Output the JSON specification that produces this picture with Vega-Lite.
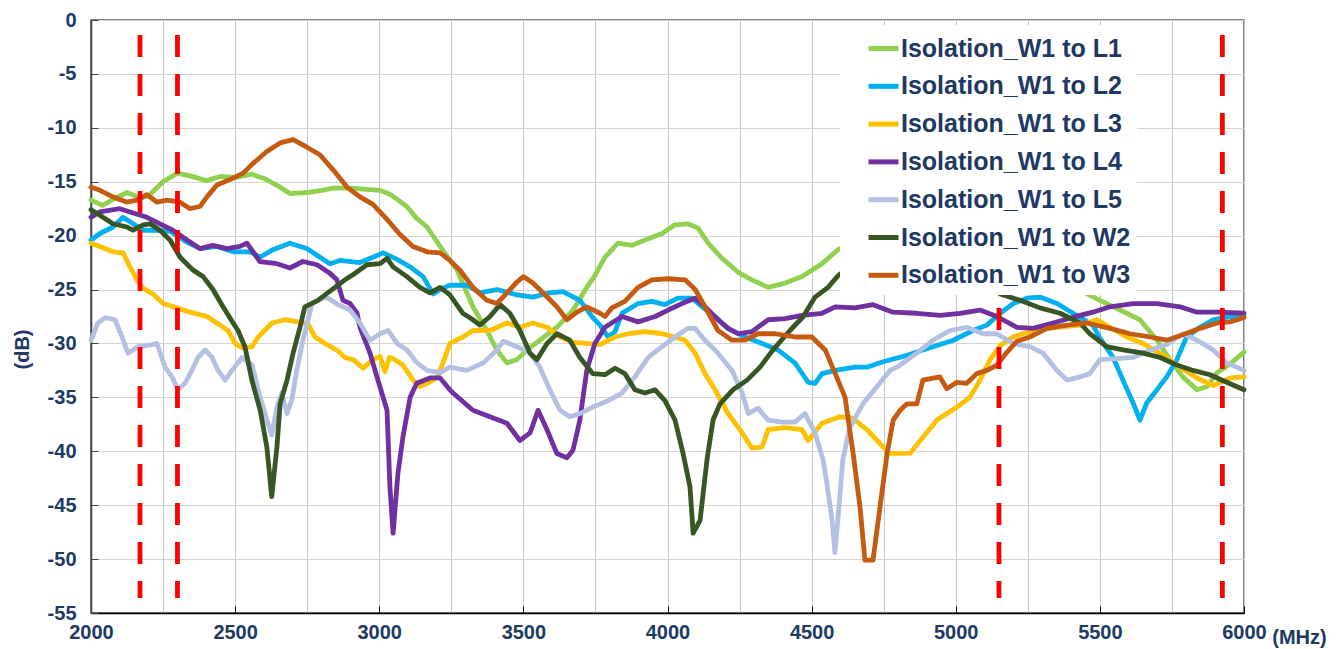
{
"$schema": "https://vega.github.io/schema/vega-lite/v6.json",
"width": 1153, "height": 593, "autosize": "none",
"padding": {"left": 91, "top": 20, "right": 98, "bottom": 36},
"background": "white",
"config": {"view": {"stroke": "#595959", "strokeWidth": 1.5}, "font": "Liberation Sans"},
"datasets": {
"bands": [{"freq": 2170}, {"freq": 2300}, {"freq": 5150}, {"freq": 5925}],
"curves": [
{"series":"Isolation_W1 to L1","freq":2000,"db":-16.7},{"series":"Isolation_W1 to L1","freq":2040,"db":-17.2},{"series":"Isolation_W1 to L1","freq":2080,"db":-16.6},{"series":"Isolation_W1 to L1","freq":2125,"db":-16.0},{"series":"Isolation_W1 to L1","freq":2170,"db":-16.5},{"series":"Isolation_W1 to L1","freq":2200,"db":-16.3},{"series":"Isolation_W1 to L1","freq":2250,"db":-15.0},{"series":"Isolation_W1 to L1","freq":2300,"db":-14.2},{"series":"Isolation_W1 to L1","freq":2350,"db":-14.5},{"series":"Isolation_W1 to L1","freq":2400,"db":-14.9},{"series":"Isolation_W1 to L1","freq":2450,"db":-14.5},{"series":"Isolation_W1 to L1","freq":2500,"db":-14.6},{"series":"Isolation_W1 to L1","freq":2558,"db":-14.3},{"series":"Isolation_W1 to L1","freq":2600,"db":-14.7},{"series":"Isolation_W1 to L1","freq":2650,"db":-15.4},{"series":"Isolation_W1 to L1","freq":2690,"db":-16.1},{"series":"Isolation_W1 to L1","freq":2750,"db":-16.0},{"series":"Isolation_W1 to L1","freq":2800,"db":-15.8},{"series":"Isolation_W1 to L1","freq":2840,"db":-15.6},{"series":"Isolation_W1 to L1","freq":2900,"db":-15.6},{"series":"Isolation_W1 to L1","freq":2957,"db":-15.7},{"series":"Isolation_W1 to L1","freq":3003,"db":-15.8},{"series":"Isolation_W1 to L1","freq":3040,"db":-16.2},{"series":"Isolation_W1 to L1","freq":3096,"db":-17.3},{"series":"Isolation_W1 to L1","freq":3130,"db":-18.4},{"series":"Isolation_W1 to L1","freq":3166,"db":-19.2},{"series":"Isolation_W1 to L1","freq":3211,"db":-21.0},{"series":"Isolation_W1 to L1","freq":3270,"db":-23.2},{"series":"Isolation_W1 to L1","freq":3325,"db":-26.6},{"series":"Isolation_W1 to L1","freq":3373,"db":-28.8},{"series":"Isolation_W1 to L1","freq":3408,"db":-30.6},{"series":"Isolation_W1 to L1","freq":3443,"db":-31.8},{"series":"Isolation_W1 to L1","freq":3478,"db":-31.5},{"series":"Isolation_W1 to L1","freq":3512,"db":-30.6},{"series":"Isolation_W1 to L1","freq":3557,"db":-29.7},{"series":"Isolation_W1 to L1","freq":3616,"db":-28.5},{"series":"Isolation_W1 to L1","freq":3672,"db":-26.9},{"series":"Isolation_W1 to L1","freq":3720,"db":-24.8},{"series":"Isolation_W1 to L1","freq":3748,"db":-23.7},{"series":"Isolation_W1 to L1","freq":3783,"db":-22.0},{"series":"Isolation_W1 to L1","freq":3828,"db":-20.7},{"series":"Isolation_W1 to L1","freq":3877,"db":-20.9},{"series":"Isolation_W1 to L1","freq":3922,"db":-20.4},{"series":"Isolation_W1 to L1","freq":3981,"db":-19.8},{"series":"Isolation_W1 to L1","freq":4026,"db":-19.0},{"series":"Isolation_W1 to L1","freq":4071,"db":-18.9},{"series":"Isolation_W1 to L1","freq":4106,"db":-19.3},{"series":"Isolation_W1 to L1","freq":4141,"db":-20.7},{"series":"Isolation_W1 to L1","freq":4189,"db":-22.1},{"series":"Isolation_W1 to L1","freq":4245,"db":-23.4},{"series":"Isolation_W1 to L1","freq":4293,"db":-24.1},{"series":"Isolation_W1 to L1","freq":4349,"db":-24.8},{"series":"Isolation_W1 to L1","freq":4408,"db":-24.4},{"series":"Isolation_W1 to L1","freq":4467,"db":-23.8},{"series":"Isolation_W1 to L1","freq":4536,"db":-22.6},{"series":"Isolation_W1 to L1","freq":4592,"db":-21.3},{"series":"Isolation_W1 to L1","freq":4650,"db":-20.5},{"series":"Isolation_W1 to L1","freq":4750,"db":-19.8},{"series":"Isolation_W1 to L1","freq":4900,"db":-19.5},{"series":"Isolation_W1 to L1","freq":5050,"db":-20.5},{"series":"Isolation_W1 to L1","freq":5200,"db":-22.0},{"series":"Isolation_W1 to L1","freq":5350,"db":-24.0},{"series":"Isolation_W1 to L1","freq":5456,"db":-25.4},{"series":"Isolation_W1 to L1","freq":5500,"db":-26.0},{"series":"Isolation_W1 to L1","freq":5570,"db":-26.9},{"series":"Isolation_W1 to L1","freq":5639,"db":-27.8},{"series":"Isolation_W1 to L1","freq":5698,"db":-29.7},{"series":"Isolation_W1 to L1","freq":5743,"db":-31.5},{"series":"Isolation_W1 to L1","freq":5788,"db":-33.1},{"series":"Isolation_W1 to L1","freq":5837,"db":-34.3},{"series":"Isolation_W1 to L1","freq":5872,"db":-34.0},{"series":"Isolation_W1 to L1","freq":5907,"db":-32.7},{"series":"Isolation_W1 to L1","freq":5952,"db":-31.9},{"series":"Isolation_W1 to L1","freq":6000,"db":-30.8},
{"series":"Isolation_W1 to L2","freq":2000,"db":-20.4},{"series":"Isolation_W1 to L2","freq":2031,"db":-19.8},{"series":"Isolation_W1 to L2","freq":2076,"db":-19.2},{"series":"Isolation_W1 to L2","freq":2111,"db":-18.3},{"series":"Isolation_W1 to L2","freq":2146,"db":-18.9},{"series":"Isolation_W1 to L2","freq":2181,"db":-19.5},{"series":"Isolation_W1 to L2","freq":2229,"db":-19.5},{"series":"Isolation_W1 to L2","freq":2274,"db":-19.6},{"series":"Isolation_W1 to L2","freq":2333,"db":-20.6},{"series":"Isolation_W1 to L2","freq":2378,"db":-21.2},{"series":"Isolation_W1 to L2","freq":2437,"db":-21.0},{"series":"Isolation_W1 to L2","freq":2493,"db":-21.5},{"series":"Isolation_W1 to L2","freq":2552,"db":-21.5},{"series":"Isolation_W1 to L2","freq":2586,"db":-22.0},{"series":"Isolation_W1 to L2","freq":2631,"db":-21.3},{"series":"Isolation_W1 to L2","freq":2690,"db":-20.7},{"series":"Isolation_W1 to L2","freq":2749,"db":-21.2},{"series":"Isolation_W1 to L2","freq":2794,"db":-22.0},{"series":"Isolation_W1 to L2","freq":2829,"db":-22.6},{"series":"Isolation_W1 to L2","freq":2864,"db":-22.3},{"series":"Isolation_W1 to L2","freq":2933,"db":-22.5},{"series":"Isolation_W1 to L2","freq":2978,"db":-22.0},{"series":"Isolation_W1 to L2","freq":3013,"db":-21.6},{"series":"Isolation_W1 to L2","freq":3062,"db":-22.2},{"series":"Isolation_W1 to L2","freq":3107,"db":-22.9},{"series":"Isolation_W1 to L2","freq":3152,"db":-23.8},{"series":"Isolation_W1 to L2","freq":3187,"db":-25.4},{"series":"Isolation_W1 to L2","freq":3211,"db":-25.0},{"series":"Isolation_W1 to L2","freq":3245,"db":-24.6},{"series":"Isolation_W1 to L2","freq":3304,"db":-24.6},{"series":"Isolation_W1 to L2","freq":3349,"db":-25.3},{"series":"Isolation_W1 to L2","freq":3408,"db":-25.0},{"series":"Isolation_W1 to L2","freq":3478,"db":-25.5},{"series":"Isolation_W1 to L2","freq":3533,"db":-25.7},{"series":"Isolation_W1 to L2","freq":3592,"db":-25.3},{"series":"Isolation_W1 to L2","freq":3637,"db":-25.2},{"series":"Isolation_W1 to L2","freq":3696,"db":-26.0},{"series":"Isolation_W1 to L2","freq":3741,"db":-27.6},{"series":"Isolation_W1 to L2","freq":3766,"db":-28.3},{"series":"Isolation_W1 to L2","freq":3794,"db":-29.4},{"series":"Isolation_W1 to L2","freq":3818,"db":-28.9},{"series":"Isolation_W1 to L2","freq":3842,"db":-27.2},{"series":"Isolation_W1 to L2","freq":3898,"db":-26.3},{"series":"Isolation_W1 to L2","freq":3946,"db":-26.1},{"series":"Isolation_W1 to L2","freq":3991,"db":-26.4},{"series":"Isolation_W1 to L2","freq":4036,"db":-25.8},{"series":"Isolation_W1 to L2","freq":4085,"db":-25.8},{"series":"Isolation_W1 to L2","freq":4120,"db":-26.6},{"series":"Isolation_W1 to L2","freq":4165,"db":-27.5},{"series":"Isolation_W1 to L2","freq":4210,"db":-28.6},{"series":"Isolation_W1 to L2","freq":4269,"db":-29.4},{"series":"Isolation_W1 to L2","freq":4328,"db":-30.0},{"series":"Isolation_W1 to L2","freq":4383,"db":-30.6},{"series":"Isolation_W1 to L2","freq":4442,"db":-31.8},{"series":"Isolation_W1 to L2","freq":4488,"db":-33.6},{"series":"Isolation_W1 to L2","freq":4512,"db":-33.7},{"series":"Isolation_W1 to L2","freq":4536,"db":-32.8},{"series":"Isolation_W1 to L2","freq":4582,"db":-32.5},{"series":"Isolation_W1 to L2","freq":4650,"db":-32.2},{"series":"Isolation_W1 to L2","freq":4692,"db":-32.2},{"series":"Isolation_W1 to L2","freq":4748,"db":-31.7},{"series":"Isolation_W1 to L2","freq":4831,"db":-31.1},{"series":"Isolation_W1 to L2","freq":4921,"db":-30.3},{"series":"Isolation_W1 to L2","freq":4991,"db":-29.7},{"series":"Isolation_W1 to L2","freq":5060,"db":-28.8},{"series":"Isolation_W1 to L2","freq":5108,"db":-28.3},{"series":"Isolation_W1 to L2","freq":5154,"db":-27.2},{"series":"Isolation_W1 to L2","freq":5199,"db":-26.3},{"series":"Isolation_W1 to L2","freq":5247,"db":-25.8},{"series":"Isolation_W1 to L2","freq":5292,"db":-25.7},{"series":"Isolation_W1 to L2","freq":5351,"db":-26.3},{"series":"Isolation_W1 to L2","freq":5407,"db":-27.2},{"series":"Isolation_W1 to L2","freq":5476,"db":-28.3},{"series":"Isolation_W1 to L2","freq":5500,"db":-29.5},{"series":"Isolation_W1 to L2","freq":5546,"db":-31.3},{"series":"Isolation_W1 to L2","freq":5580,"db":-33.4},{"series":"Isolation_W1 to L2","freq":5615,"db":-35.5},{"series":"Isolation_W1 to L2","freq":5639,"db":-37.1},{"series":"Isolation_W1 to L2","freq":5663,"db":-35.5},{"series":"Isolation_W1 to L2","freq":5698,"db":-34.3},{"series":"Isolation_W1 to L2","freq":5732,"db":-33.1},{"series":"Isolation_W1 to L2","freq":5767,"db":-31.5},{"series":"Isolation_W1 to L2","freq":5801,"db":-29.4},{"series":"Isolation_W1 to L2","freq":5847,"db":-28.5},{"series":"Isolation_W1 to L2","freq":5893,"db":-27.8},{"series":"Isolation_W1 to L2","freq":5928,"db":-27.6},{"series":"Isolation_W1 to L2","freq":6000,"db":-27.4},
{"series":"Isolation_W1 to L3","freq":2000,"db":-20.7},{"series":"Isolation_W1 to L3","freq":2031,"db":-21.0},{"series":"Isolation_W1 to L3","freq":2076,"db":-21.5},{"series":"Isolation_W1 to L3","freq":2111,"db":-21.6},{"series":"Isolation_W1 to L3","freq":2135,"db":-22.9},{"series":"Isolation_W1 to L3","freq":2160,"db":-24.1},{"series":"Isolation_W1 to L3","freq":2181,"db":-24.9},{"series":"Isolation_W1 to L3","freq":2215,"db":-25.4},{"series":"Isolation_W1 to L3","freq":2250,"db":-26.3},{"series":"Isolation_W1 to L3","freq":2298,"db":-26.7},{"series":"Isolation_W1 to L3","freq":2343,"db":-27.1},{"series":"Isolation_W1 to L3","freq":2402,"db":-27.5},{"series":"Isolation_W1 to L3","freq":2448,"db":-28.3},{"series":"Isolation_W1 to L3","freq":2475,"db":-28.8},{"series":"Isolation_W1 to L3","freq":2500,"db":-30.0},{"series":"Isolation_W1 to L3","freq":2524,"db":-30.4},{"series":"Isolation_W1 to L3","freq":2559,"db":-30.3},{"series":"Isolation_W1 to L3","freq":2580,"db":-29.4},{"series":"Isolation_W1 to L3","freq":2628,"db":-28.1},{"series":"Isolation_W1 to L3","freq":2673,"db":-27.8},{"series":"Isolation_W1 to L3","freq":2718,"db":-28.0},{"series":"Isolation_W1 to L3","freq":2753,"db":-28.2},{"series":"Isolation_W1 to L3","freq":2777,"db":-29.4},{"series":"Isolation_W1 to L3","freq":2812,"db":-30.0},{"series":"Isolation_W1 to L3","freq":2857,"db":-30.7},{"series":"Isolation_W1 to L3","freq":2881,"db":-31.3},{"series":"Isolation_W1 to L3","freq":2910,"db":-31.5},{"series":"Isolation_W1 to L3","freq":2944,"db":-32.3},{"series":"Isolation_W1 to L3","freq":2978,"db":-31.5},{"series":"Isolation_W1 to L3","freq":3003,"db":-31.2},{"series":"Isolation_W1 to L3","freq":3020,"db":-32.6},{"series":"Isolation_W1 to L3","freq":3035,"db":-31.3},{"series":"Isolation_W1 to L3","freq":3048,"db":-31.4},{"series":"Isolation_W1 to L3","freq":3082,"db":-32.0},{"series":"Isolation_W1 to L3","freq":3117,"db":-33.4},{"series":"Isolation_W1 to L3","freq":3141,"db":-34.0},{"series":"Isolation_W1 to L3","freq":3166,"db":-33.7},{"series":"Isolation_W1 to L3","freq":3200,"db":-33.2},{"series":"Isolation_W1 to L3","freq":3221,"db":-31.8},{"series":"Isolation_W1 to L3","freq":3245,"db":-30.0},{"series":"Isolation_W1 to L3","freq":3290,"db":-29.4},{"series":"Isolation_W1 to L3","freq":3325,"db":-28.8},{"series":"Isolation_W1 to L3","freq":3384,"db":-28.8},{"series":"Isolation_W1 to L3","freq":3443,"db":-28.1},{"series":"Isolation_W1 to L3","freq":3488,"db":-28.5},{"series":"Isolation_W1 to L3","freq":3533,"db":-28.1},{"series":"Isolation_W1 to L3","freq":3582,"db":-28.5},{"series":"Isolation_W1 to L3","freq":3627,"db":-29.4},{"series":"Isolation_W1 to L3","freq":3672,"db":-29.9},{"series":"Isolation_W1 to L3","freq":3720,"db":-30.0},{"series":"Isolation_W1 to L3","freq":3766,"db":-30.1},{"series":"Isolation_W1 to L3","freq":3818,"db":-29.4},{"series":"Isolation_W1 to L3","freq":3863,"db":-29.1},{"series":"Isolation_W1 to L3","freq":3922,"db":-28.9},{"series":"Isolation_W1 to L3","freq":3981,"db":-29.1},{"series":"Isolation_W1 to L3","freq":4026,"db":-29.4},{"series":"Isolation_W1 to L3","freq":4061,"db":-29.7},{"series":"Isolation_W1 to L3","freq":4096,"db":-30.9},{"series":"Isolation_W1 to L3","freq":4130,"db":-32.8},{"series":"Isolation_W1 to L3","freq":4165,"db":-34.3},{"series":"Isolation_W1 to L3","freq":4210,"db":-36.5},{"series":"Isolation_W1 to L3","freq":4259,"db":-38.3},{"series":"Isolation_W1 to L3","freq":4293,"db":-39.7},{"series":"Isolation_W1 to L3","freq":4328,"db":-39.6},{"series":"Isolation_W1 to L3","freq":4349,"db":-38.0},{"series":"Isolation_W1 to L3","freq":4408,"db":-37.8},{"series":"Isolation_W1 to L3","freq":4467,"db":-38.0},{"series":"Isolation_W1 to L3","freq":4488,"db":-39.0},{"series":"Isolation_W1 to L3","freq":4536,"db":-37.4},{"series":"Isolation_W1 to L3","freq":4598,"db":-36.8},{"series":"Isolation_W1 to L3","freq":4640,"db":-36.9},{"series":"Isolation_W1 to L3","freq":4692,"db":-38.0},{"series":"Isolation_W1 to L3","freq":4748,"db":-39.6},{"series":"Isolation_W1 to L3","freq":4772,"db":-40.2},{"series":"Isolation_W1 to L3","freq":4841,"db":-40.2},{"series":"Isolation_W1 to L3","freq":4886,"db":-38.7},{"series":"Isolation_W1 to L3","freq":4935,"db":-37.1},{"series":"Isolation_W1 to L3","freq":5004,"db":-35.9},{"series":"Isolation_W1 to L3","freq":5049,"db":-35.0},{"series":"Isolation_W1 to L3","freq":5084,"db":-33.4},{"series":"Isolation_W1 to L3","freq":5119,"db":-31.5},{"series":"Isolation_W1 to L3","freq":5154,"db":-30.2},{"series":"Isolation_W1 to L3","freq":5199,"db":-29.4},{"series":"Isolation_W1 to L3","freq":5268,"db":-28.8},{"series":"Isolation_W1 to L3","freq":5351,"db":-28.5},{"series":"Isolation_W1 to L3","freq":5431,"db":-28.3},{"series":"Isolation_W1 to L3","freq":5490,"db":-27.8},{"series":"Isolation_W1 to L3","freq":5535,"db":-28.5},{"series":"Isolation_W1 to L3","freq":5593,"db":-29.4},{"series":"Isolation_W1 to L3","freq":5650,"db":-30.0},{"series":"Isolation_W1 to L3","freq":5719,"db":-31.1},{"series":"Isolation_W1 to L3","freq":5778,"db":-32.2},{"series":"Isolation_W1 to L3","freq":5837,"db":-33.2},{"series":"Isolation_W1 to L3","freq":5893,"db":-33.9},{"series":"Isolation_W1 to L3","freq":5952,"db":-33.2},{"series":"Isolation_W1 to L3","freq":6000,"db":-33.1},
{"series":"Isolation_W1 to L4","freq":2000,"db":-18.3},{"series":"Isolation_W1 to L4","freq":2031,"db":-17.8},{"series":"Isolation_W1 to L4","freq":2100,"db":-17.5},{"series":"Isolation_W1 to L4","freq":2146,"db":-17.9},{"series":"Isolation_W1 to L4","freq":2194,"db":-18.3},{"series":"Isolation_W1 to L4","freq":2239,"db":-18.9},{"series":"Isolation_W1 to L4","freq":2284,"db":-19.5},{"series":"Isolation_W1 to L4","freq":2333,"db":-20.4},{"series":"Isolation_W1 to L4","freq":2378,"db":-21.2},{"series":"Isolation_W1 to L4","freq":2423,"db":-20.9},{"series":"Isolation_W1 to L4","freq":2472,"db":-21.2},{"series":"Isolation_W1 to L4","freq":2517,"db":-21.0},{"series":"Isolation_W1 to L4","freq":2541,"db":-20.7},{"series":"Isolation_W1 to L4","freq":2586,"db":-22.4},{"series":"Isolation_W1 to L4","freq":2645,"db":-22.6},{"series":"Isolation_W1 to L4","freq":2690,"db":-23.0},{"series":"Isolation_W1 to L4","freq":2735,"db":-22.4},{"series":"Isolation_W1 to L4","freq":2784,"db":-22.7},{"series":"Isolation_W1 to L4","freq":2829,"db":-23.5},{"series":"Isolation_W1 to L4","freq":2853,"db":-24.1},{"series":"Isolation_W1 to L4","freq":2874,"db":-26.0},{"series":"Isolation_W1 to L4","freq":2899,"db":-26.3},{"series":"Isolation_W1 to L4","freq":2923,"db":-27.2},{"series":"Isolation_W1 to L4","freq":2933,"db":-28.5},{"series":"Isolation_W1 to L4","freq":2968,"db":-30.9},{"series":"Isolation_W1 to L4","freq":2992,"db":-33.1},{"series":"Isolation_W1 to L4","freq":3027,"db":-36.2},{"series":"Isolation_W1 to L4","freq":3037,"db":-43.3},{"series":"Isolation_W1 to L4","freq":3048,"db":-47.6},{"series":"Isolation_W1 to L4","freq":3065,"db":-42.0},{"series":"Isolation_W1 to L4","freq":3082,"db":-38.7},{"series":"Isolation_W1 to L4","freq":3107,"db":-35.0},{"series":"Isolation_W1 to L4","freq":3130,"db":-33.7},{"series":"Isolation_W1 to L4","freq":3176,"db":-33.2},{"series":"Isolation_W1 to L4","freq":3211,"db":-33.2},{"series":"Isolation_W1 to L4","freq":3245,"db":-34.3},{"series":"Isolation_W1 to L4","freq":3256,"db":-34.6},{"series":"Isolation_W1 to L4","freq":3325,"db":-36.2},{"series":"Isolation_W1 to L4","freq":3384,"db":-36.8},{"series":"Isolation_W1 to L4","freq":3443,"db":-37.4},{"series":"Isolation_W1 to L4","freq":3488,"db":-39.0},{"series":"Isolation_W1 to L4","freq":3523,"db":-38.3},{"series":"Isolation_W1 to L4","freq":3551,"db":-36.2},{"series":"Isolation_W1 to L4","freq":3582,"db":-38.0},{"series":"Isolation_W1 to L4","freq":3616,"db":-40.2},{"series":"Isolation_W1 to L4","freq":3651,"db":-40.6},{"series":"Isolation_W1 to L4","freq":3672,"db":-39.9},{"series":"Isolation_W1 to L4","freq":3696,"db":-37.1},{"series":"Isolation_W1 to L4","freq":3720,"db":-32.5},{"series":"Isolation_W1 to L4","freq":3748,"db":-30.0},{"series":"Isolation_W1 to L4","freq":3783,"db":-28.5},{"series":"Isolation_W1 to L4","freq":3842,"db":-27.5},{"series":"Isolation_W1 to L4","freq":3898,"db":-28.0},{"series":"Isolation_W1 to L4","freq":3957,"db":-27.5},{"series":"Isolation_W1 to L4","freq":4002,"db":-26.9},{"series":"Isolation_W1 to L4","freq":4050,"db":-26.3},{"series":"Isolation_W1 to L4","freq":4096,"db":-25.8},{"series":"Isolation_W1 to L4","freq":4130,"db":-26.6},{"series":"Isolation_W1 to L4","freq":4175,"db":-27.8},{"series":"Isolation_W1 to L4","freq":4210,"db":-28.6},{"series":"Isolation_W1 to L4","freq":4245,"db":-29.1},{"series":"Isolation_W1 to L4","freq":4293,"db":-28.9},{"series":"Isolation_W1 to L4","freq":4349,"db":-27.8},{"series":"Isolation_W1 to L4","freq":4408,"db":-27.7},{"series":"Isolation_W1 to L4","freq":4467,"db":-27.4},{"series":"Isolation_W1 to L4","freq":4536,"db":-27.2},{"series":"Isolation_W1 to L4","freq":4582,"db":-26.6},{"series":"Isolation_W1 to L4","freq":4650,"db":-26.7},{"series":"Isolation_W1 to L4","freq":4713,"db":-26.4},{"series":"Isolation_W1 to L4","freq":4782,"db":-27.1},{"series":"Isolation_W1 to L4","freq":4865,"db":-27.2},{"series":"Isolation_W1 to L4","freq":4946,"db":-27.4},{"series":"Isolation_W1 to L4","freq":5015,"db":-27.2},{"series":"Isolation_W1 to L4","freq":5084,"db":-26.9},{"series":"Isolation_W1 to L4","freq":5143,"db":-27.5},{"series":"Isolation_W1 to L4","freq":5212,"db":-28.5},{"series":"Isolation_W1 to L4","freq":5268,"db":-28.6},{"series":"Isolation_W1 to L4","freq":5337,"db":-28.1},{"series":"Isolation_W1 to L4","freq":5431,"db":-27.4},{"series":"Isolation_W1 to L4","freq":5476,"db":-27.1},{"series":"Isolation_W1 to L4","freq":5535,"db":-26.6},{"series":"Isolation_W1 to L4","freq":5615,"db":-26.3},{"series":"Isolation_W1 to L4","freq":5698,"db":-26.3},{"series":"Isolation_W1 to L4","freq":5778,"db":-26.6},{"series":"Isolation_W1 to L4","freq":5837,"db":-27.1},{"series":"Isolation_W1 to L4","freq":5907,"db":-27.1},{"series":"Isolation_W1 to L4","freq":6000,"db":-27.2},
{"series":"Isolation_W1 to L5","freq":2000,"db":-29.7},{"series":"Isolation_W1 to L5","freq":2024,"db":-28.1},{"series":"Isolation_W1 to L5","freq":2049,"db":-27.6},{"series":"Isolation_W1 to L5","freq":2083,"db":-27.8},{"series":"Isolation_W1 to L5","freq":2108,"db":-29.4},{"series":"Isolation_W1 to L5","freq":2128,"db":-30.9},{"series":"Isolation_W1 to L5","freq":2163,"db":-30.3},{"series":"Isolation_W1 to L5","freq":2212,"db":-30.1},{"series":"Isolation_W1 to L5","freq":2229,"db":-30.0},{"series":"Isolation_W1 to L5","freq":2257,"db":-32.2},{"series":"Isolation_W1 to L5","freq":2281,"db":-33.1},{"series":"Isolation_W1 to L5","freq":2302,"db":-34.3},{"series":"Isolation_W1 to L5","freq":2326,"db":-33.7},{"series":"Isolation_W1 to L5","freq":2350,"db":-32.5},{"series":"Isolation_W1 to L5","freq":2371,"db":-31.3},{"series":"Isolation_W1 to L5","freq":2396,"db":-30.6},{"series":"Isolation_W1 to L5","freq":2420,"db":-31.3},{"series":"Isolation_W1 to L5","freq":2441,"db":-32.5},{"series":"Isolation_W1 to L5","freq":2465,"db":-33.4},{"series":"Isolation_W1 to L5","freq":2489,"db":-32.5},{"series":"Isolation_W1 to L5","freq":2524,"db":-31.3},{"series":"Isolation_W1 to L5","freq":2559,"db":-32.0},{"series":"Isolation_W1 to L5","freq":2580,"db":-34.3},{"series":"Isolation_W1 to L5","freq":2610,"db":-37.1},{"series":"Isolation_W1 to L5","freq":2627,"db":-38.5},{"series":"Isolation_W1 to L5","freq":2645,"db":-35.9},{"series":"Isolation_W1 to L5","freq":2662,"db":-34.6},{"series":"Isolation_W1 to L5","freq":2680,"db":-36.5},{"series":"Isolation_W1 to L5","freq":2697,"db":-35.2},{"series":"Isolation_W1 to L5","freq":2714,"db":-32.5},{"series":"Isolation_W1 to L5","freq":2735,"db":-29.7},{"series":"Isolation_W1 to L5","freq":2767,"db":-26.3},{"series":"Isolation_W1 to L5","freq":2812,"db":-25.7},{"series":"Isolation_W1 to L5","freq":2829,"db":-25.9},{"series":"Isolation_W1 to L5","freq":2857,"db":-26.4},{"series":"Isolation_W1 to L5","freq":2899,"db":-26.9},{"series":"Isolation_W1 to L5","freq":2933,"db":-28.1},{"series":"Isolation_W1 to L5","freq":2968,"db":-29.7},{"series":"Isolation_W1 to L5","freq":3003,"db":-29.1},{"series":"Isolation_W1 to L5","freq":3031,"db":-28.8},{"series":"Isolation_W1 to L5","freq":3062,"db":-30.0},{"series":"Isolation_W1 to L5","freq":3096,"db":-30.6},{"series":"Isolation_W1 to L5","freq":3131,"db":-31.8},{"series":"Isolation_W1 to L5","freq":3166,"db":-32.5},{"series":"Isolation_W1 to L5","freq":3211,"db":-32.7},{"series":"Isolation_W1 to L5","freq":3245,"db":-32.2},{"series":"Isolation_W1 to L5","freq":3304,"db":-32.5},{"series":"Isolation_W1 to L5","freq":3361,"db":-31.8},{"series":"Isolation_W1 to L5","freq":3408,"db":-30.6},{"series":"Isolation_W1 to L5","freq":3430,"db":-29.8},{"series":"Isolation_W1 to L5","freq":3478,"db":-30.3},{"series":"Isolation_W1 to L5","freq":3523,"db":-30.9},{"series":"Isolation_W1 to L5","freq":3557,"db":-32.2},{"series":"Isolation_W1 to L5","freq":3592,"db":-34.3},{"series":"Isolation_W1 to L5","freq":3627,"db":-36.2},{"series":"Isolation_W1 to L5","freq":3661,"db":-36.8},{"series":"Isolation_W1 to L5","freq":3696,"db":-36.5},{"series":"Isolation_W1 to L5","freq":3741,"db":-35.9},{"series":"Isolation_W1 to L5","freq":3794,"db":-35.3},{"series":"Isolation_W1 to L5","freq":3842,"db":-34.6},{"series":"Isolation_W1 to L5","freq":3887,"db":-33.1},{"series":"Isolation_W1 to L5","freq":3933,"db":-31.3},{"series":"Isolation_W1 to L5","freq":3981,"db":-30.3},{"series":"Isolation_W1 to L5","freq":4026,"db":-29.4},{"series":"Isolation_W1 to L5","freq":4071,"db":-28.6},{"series":"Isolation_W1 to L5","freq":4096,"db":-28.6},{"series":"Isolation_W1 to L5","freq":4130,"db":-29.7},{"series":"Isolation_W1 to L5","freq":4175,"db":-30.9},{"series":"Isolation_W1 to L5","freq":4224,"db":-32.5},{"series":"Isolation_W1 to L5","freq":4259,"db":-34.6},{"series":"Isolation_W1 to L5","freq":4280,"db":-36.5},{"series":"Isolation_W1 to L5","freq":4314,"db":-36.0},{"series":"Isolation_W1 to L5","freq":4349,"db":-37.1},{"series":"Isolation_W1 to L5","freq":4397,"db":-37.3},{"series":"Isolation_W1 to L5","freq":4442,"db":-37.3},{"series":"Isolation_W1 to L5","freq":4477,"db":-36.5},{"series":"Isolation_W1 to L5","freq":4512,"db":-38.3},{"series":"Isolation_W1 to L5","freq":4540,"db":-40.8},{"series":"Isolation_W1 to L5","freq":4553,"db":-43.0},{"series":"Isolation_W1 to L5","freq":4571,"db":-46.4},{"series":"Isolation_W1 to L5","freq":4581,"db":-49.4},{"series":"Isolation_W1 to L5","freq":4598,"db":-44.2},{"series":"Isolation_W1 to L5","freq":4608,"db":-40.8},{"series":"Isolation_W1 to L5","freq":4632,"db":-37.8},{"series":"Isolation_W1 to L5","freq":4678,"db":-35.6},{"series":"Isolation_W1 to L5","freq":4727,"db":-34.0},{"series":"Isolation_W1 to L5","freq":4772,"db":-32.5},{"series":"Isolation_W1 to L5","freq":4796,"db":-32.2},{"series":"Isolation_W1 to L5","freq":4865,"db":-30.9},{"series":"Isolation_W1 to L5","freq":4921,"db":-29.7},{"series":"Isolation_W1 to L5","freq":4980,"db":-28.8},{"series":"Isolation_W1 to L5","freq":5038,"db":-28.5},{"series":"Isolation_W1 to L5","freq":5095,"db":-29.1},{"series":"Isolation_W1 to L5","freq":5143,"db":-29.1},{"series":"Isolation_W1 to L5","freq":5199,"db":-30.0},{"series":"Isolation_W1 to L5","freq":5257,"db":-30.3},{"series":"Isolation_W1 to L5","freq":5303,"db":-30.9},{"series":"Isolation_W1 to L5","freq":5351,"db":-32.5},{"series":"Isolation_W1 to L5","freq":5386,"db":-33.4},{"series":"Isolation_W1 to L5","freq":5431,"db":-33.1},{"series":"Isolation_W1 to L5","freq":5465,"db":-32.8},{"series":"Isolation_W1 to L5","freq":5500,"db":-31.5},{"series":"Isolation_W1 to L5","freq":5558,"db":-31.4},{"series":"Isolation_W1 to L5","freq":5615,"db":-31.3},{"series":"Isolation_W1 to L5","freq":5674,"db":-30.6},{"series":"Isolation_W1 to L5","freq":5732,"db":-30.1},{"series":"Isolation_W1 to L5","freq":5788,"db":-29.1},{"series":"Isolation_W1 to L5","freq":5837,"db":-29.7},{"series":"Isolation_W1 to L5","freq":5893,"db":-30.6},{"series":"Isolation_W1 to L5","freq":5940,"db":-31.8},{"series":"Isolation_W1 to L5","freq":6000,"db":-32.5},
{"series":"Isolation_W1 to W2","freq":2000,"db":-17.6},{"series":"Isolation_W1 to W2","freq":2031,"db":-18.1},{"series":"Isolation_W1 to W2","freq":2076,"db":-18.9},{"series":"Isolation_W1 to W2","freq":2125,"db":-19.2},{"series":"Isolation_W1 to W2","freq":2146,"db":-19.5},{"series":"Isolation_W1 to W2","freq":2181,"db":-19.0},{"series":"Isolation_W1 to W2","freq":2205,"db":-18.9},{"series":"Isolation_W1 to W2","freq":2239,"db":-19.5},{"series":"Isolation_W1 to W2","freq":2274,"db":-20.4},{"series":"Isolation_W1 to W2","freq":2309,"db":-22.0},{"series":"Isolation_W1 to W2","freq":2354,"db":-23.2},{"series":"Isolation_W1 to W2","freq":2389,"db":-23.8},{"series":"Isolation_W1 to W2","freq":2423,"db":-25.0},{"series":"Isolation_W1 to W2","freq":2458,"db":-26.6},{"series":"Isolation_W1 to W2","freq":2493,"db":-28.1},{"series":"Isolation_W1 to W2","freq":2510,"db":-28.8},{"series":"Isolation_W1 to W2","freq":2534,"db":-30.3},{"series":"Isolation_W1 to W2","freq":2559,"db":-33.5},{"series":"Isolation_W1 to W2","freq":2587,"db":-36.2},{"series":"Isolation_W1 to W2","freq":2610,"db":-39.6},{"series":"Isolation_W1 to W2","freq":2627,"db":-44.2},{"series":"Isolation_W1 to W2","freq":2645,"db":-39.6},{"series":"Isolation_W1 to W2","freq":2656,"db":-35.6},{"series":"Isolation_W1 to W2","freq":2680,"db":-33.4},{"series":"Isolation_W1 to W2","freq":2701,"db":-30.9},{"series":"Isolation_W1 to W2","freq":2725,"db":-28.5},{"series":"Isolation_W1 to W2","freq":2742,"db":-26.6},{"series":"Isolation_W1 to W2","freq":2787,"db":-26.0},{"series":"Isolation_W1 to W2","freq":2836,"db":-25.0},{"series":"Isolation_W1 to W2","freq":2881,"db":-24.1},{"series":"Isolation_W1 to W2","freq":2910,"db":-23.6},{"series":"Isolation_W1 to W2","freq":2957,"db":-22.7},{"series":"Isolation_W1 to W2","freq":3003,"db":-22.6},{"series":"Isolation_W1 to W2","freq":3027,"db":-22.1},{"series":"Isolation_W1 to W2","freq":3048,"db":-22.9},{"series":"Isolation_W1 to W2","freq":3096,"db":-23.8},{"series":"Isolation_W1 to W2","freq":3141,"db":-24.8},{"series":"Isolation_W1 to W2","freq":3176,"db":-25.3},{"series":"Isolation_W1 to W2","freq":3211,"db":-24.8},{"series":"Isolation_W1 to W2","freq":3245,"db":-25.5},{"series":"Isolation_W1 to W2","freq":3290,"db":-27.2},{"series":"Isolation_W1 to W2","freq":3325,"db":-27.8},{"series":"Isolation_W1 to W2","freq":3349,"db":-28.3},{"series":"Isolation_W1 to W2","freq":3384,"db":-27.5},{"series":"Isolation_W1 to W2","freq":3419,"db":-26.4},{"series":"Isolation_W1 to W2","freq":3453,"db":-27.2},{"series":"Isolation_W1 to W2","freq":3488,"db":-28.8},{"series":"Isolation_W1 to W2","freq":3523,"db":-30.9},{"series":"Isolation_W1 to W2","freq":3547,"db":-31.5},{"series":"Isolation_W1 to W2","freq":3582,"db":-30.0},{"series":"Isolation_W1 to W2","freq":3616,"db":-29.1},{"series":"Isolation_W1 to W2","freq":3661,"db":-29.7},{"series":"Isolation_W1 to W2","freq":3696,"db":-31.3},{"series":"Isolation_W1 to W2","freq":3741,"db":-32.8},{"series":"Isolation_W1 to W2","freq":3783,"db":-32.9},{"series":"Isolation_W1 to W2","freq":3818,"db":-32.3},{"series":"Isolation_W1 to W2","freq":3852,"db":-32.8},{"series":"Isolation_W1 to W2","freq":3887,"db":-34.3},{"series":"Isolation_W1 to W2","freq":3922,"db":-34.6},{"series":"Isolation_W1 to W2","freq":3957,"db":-34.3},{"series":"Isolation_W1 to W2","freq":3991,"db":-35.3},{"series":"Isolation_W1 to W2","freq":4026,"db":-37.1},{"series":"Isolation_W1 to W2","freq":4054,"db":-40.2},{"series":"Isolation_W1 to W2","freq":4078,"db":-43.3},{"series":"Isolation_W1 to W2","freq":4089,"db":-47.6},{"series":"Isolation_W1 to W2","freq":4113,"db":-46.4},{"series":"Isolation_W1 to W2","freq":4137,"db":-40.8},{"series":"Isolation_W1 to W2","freq":4158,"db":-37.1},{"series":"Isolation_W1 to W2","freq":4182,"db":-35.6},{"series":"Isolation_W1 to W2","freq":4227,"db":-34.3},{"series":"Isolation_W1 to W2","freq":4276,"db":-33.4},{"series":"Isolation_W1 to W2","freq":4321,"db":-32.2},{"series":"Isolation_W1 to W2","freq":4366,"db":-30.6},{"series":"Isolation_W1 to W2","freq":4425,"db":-28.8},{"series":"Isolation_W1 to W2","freq":4471,"db":-27.5},{"series":"Isolation_W1 to W2","freq":4512,"db":-25.7},{"series":"Isolation_W1 to W2","freq":4557,"db":-24.8},{"series":"Isolation_W1 to W2","freq":4592,"db":-23.7},{"series":"Isolation_W1 to W2","freq":4650,"db":-22.5},{"series":"Isolation_W1 to W2","freq":4750,"db":-21.5},{"series":"Isolation_W1 to W2","freq":4900,"db":-21.5},{"series":"Isolation_W1 to W2","freq":5050,"db":-23.0},{"series":"Isolation_W1 to W2","freq":5154,"db":-25.4},{"series":"Isolation_W1 to W2","freq":5223,"db":-26.0},{"series":"Isolation_W1 to W2","freq":5292,"db":-26.7},{"series":"Isolation_W1 to W2","freq":5362,"db":-27.2},{"series":"Isolation_W1 to W2","freq":5431,"db":-28.1},{"series":"Isolation_W1 to W2","freq":5465,"db":-29.1},{"series":"Isolation_W1 to W2","freq":5524,"db":-30.3},{"series":"Isolation_W1 to W2","freq":5580,"db":-30.6},{"series":"Isolation_W1 to W2","freq":5650,"db":-30.9},{"series":"Isolation_W1 to W2","freq":5709,"db":-31.3},{"series":"Isolation_W1 to W2","freq":5767,"db":-32.0},{"series":"Isolation_W1 to W2","freq":5823,"db":-32.5},{"series":"Isolation_W1 to W2","freq":5882,"db":-32.9},{"series":"Isolation_W1 to W2","freq":5940,"db":-33.6},{"series":"Isolation_W1 to W2","freq":6000,"db":-34.3},
{"series":"Isolation_W1 to W3","freq":2000,"db":-15.5},{"series":"Isolation_W1 to W3","freq":2031,"db":-15.8},{"series":"Isolation_W1 to W3","freq":2076,"db":-16.4},{"series":"Isolation_W1 to W3","freq":2125,"db":-16.9},{"series":"Isolation_W1 to W3","freq":2160,"db":-16.7},{"series":"Isolation_W1 to W3","freq":2194,"db":-16.2},{"series":"Isolation_W1 to W3","freq":2229,"db":-16.9},{"series":"Isolation_W1 to W3","freq":2264,"db":-16.7},{"series":"Isolation_W1 to W3","freq":2309,"db":-16.9},{"series":"Isolation_W1 to W3","freq":2343,"db":-17.5},{"series":"Isolation_W1 to W3","freq":2378,"db":-17.3},{"series":"Isolation_W1 to W3","freq":2402,"db":-16.4},{"series":"Isolation_W1 to W3","freq":2437,"db":-15.3},{"series":"Isolation_W1 to W3","freq":2482,"db":-14.8},{"series":"Isolation_W1 to W3","freq":2528,"db":-14.2},{"series":"Isolation_W1 to W3","freq":2562,"db":-13.3},{"series":"Isolation_W1 to W3","freq":2610,"db":-12.2},{"series":"Isolation_W1 to W3","freq":2656,"db":-11.4},{"series":"Isolation_W1 to W3","freq":2701,"db":-11.1},{"series":"Isolation_W1 to W3","freq":2749,"db":-11.8},{"series":"Isolation_W1 to W3","freq":2794,"db":-12.5},{"series":"Isolation_W1 to W3","freq":2840,"db":-13.9},{"series":"Isolation_W1 to W3","freq":2888,"db":-15.5},{"series":"Isolation_W1 to W3","freq":2933,"db":-16.4},{"series":"Isolation_W1 to W3","freq":2978,"db":-17.1},{"series":"Isolation_W1 to W3","freq":3027,"db":-18.5},{"series":"Isolation_W1 to W3","freq":3072,"db":-19.9},{"series":"Isolation_W1 to W3","freq":3117,"db":-21.0},{"series":"Isolation_W1 to W3","freq":3166,"db":-21.5},{"series":"Isolation_W1 to W3","freq":3211,"db":-21.6},{"series":"Isolation_W1 to W3","freq":3245,"db":-22.3},{"series":"Isolation_W1 to W3","freq":3280,"db":-23.2},{"series":"Isolation_W1 to W3","freq":3325,"db":-24.8},{"series":"Isolation_W1 to W3","freq":3373,"db":-26.0},{"series":"Isolation_W1 to W3","freq":3408,"db":-26.3},{"series":"Isolation_W1 to W3","freq":3443,"db":-25.3},{"series":"Isolation_W1 to W3","freq":3478,"db":-24.3},{"series":"Isolation_W1 to W3","freq":3500,"db":-23.8},{"series":"Isolation_W1 to W3","freq":3533,"db":-24.4},{"series":"Isolation_W1 to W3","freq":3568,"db":-25.3},{"series":"Isolation_W1 to W3","freq":3616,"db":-26.6},{"series":"Isolation_W1 to W3","freq":3651,"db":-27.8},{"series":"Isolation_W1 to W3","freq":3686,"db":-27.1},{"series":"Isolation_W1 to W3","freq":3720,"db":-26.6},{"series":"Isolation_W1 to W3","freq":3766,"db":-27.2},{"series":"Isolation_W1 to W3","freq":3783,"db":-27.5},{"series":"Isolation_W1 to W3","freq":3807,"db":-26.7},{"series":"Isolation_W1 to W3","freq":3852,"db":-26.1},{"series":"Isolation_W1 to W3","freq":3898,"db":-24.8},{"series":"Isolation_W1 to W3","freq":3946,"db":-24.1},{"series":"Isolation_W1 to W3","freq":4002,"db":-24.0},{"series":"Isolation_W1 to W3","freq":4061,"db":-24.1},{"series":"Isolation_W1 to W3","freq":4096,"db":-25.0},{"series":"Isolation_W1 to W3","freq":4130,"db":-26.6},{"series":"Isolation_W1 to W3","freq":4175,"db":-28.8},{"series":"Isolation_W1 to W3","freq":4224,"db":-29.7},{"series":"Isolation_W1 to W3","freq":4269,"db":-29.7},{"series":"Isolation_W1 to W3","freq":4314,"db":-29.1},{"series":"Isolation_W1 to W3","freq":4373,"db":-29.1},{"series":"Isolation_W1 to W3","freq":4442,"db":-29.4},{"series":"Isolation_W1 to W3","freq":4501,"db":-29.4},{"series":"Isolation_W1 to W3","freq":4547,"db":-30.6},{"series":"Isolation_W1 to W3","freq":4582,"db":-32.8},{"series":"Isolation_W1 to W3","freq":4616,"db":-35.0},{"series":"Isolation_W1 to W3","freq":4644,"db":-40.2},{"series":"Isolation_W1 to W3","freq":4668,"db":-45.2},{"series":"Isolation_W1 to W3","freq":4685,"db":-50.1},{"series":"Isolation_W1 to W3","freq":4713,"db":-50.1},{"series":"Isolation_W1 to W3","freq":4737,"db":-45.2},{"series":"Isolation_W1 to W3","freq":4762,"db":-40.2},{"series":"Isolation_W1 to W3","freq":4783,"db":-37.1},{"series":"Isolation_W1 to W3","freq":4807,"db":-36.2},{"series":"Isolation_W1 to W3","freq":4831,"db":-35.6},{"series":"Isolation_W1 to W3","freq":4865,"db":-35.6},{"series":"Isolation_W1 to W3","freq":4886,"db":-33.4},{"series":"Isolation_W1 to W3","freq":4945,"db":-33.1},{"series":"Isolation_W1 to W3","freq":4969,"db":-34.2},{"series":"Isolation_W1 to W3","freq":5004,"db":-33.6},{"series":"Isolation_W1 to W3","freq":5038,"db":-33.7},{"series":"Isolation_W1 to W3","freq":5073,"db":-32.8},{"series":"Isolation_W1 to W3","freq":5108,"db":-32.5},{"series":"Isolation_W1 to W3","freq":5143,"db":-32.0},{"series":"Isolation_W1 to W3","freq":5178,"db":-30.8},{"series":"Isolation_W1 to W3","freq":5212,"db":-29.8},{"series":"Isolation_W1 to W3","freq":5257,"db":-29.4},{"series":"Isolation_W1 to W3","freq":5316,"db":-28.6},{"series":"Isolation_W1 to W3","freq":5386,"db":-28.3},{"series":"Isolation_W1 to W3","freq":5455,"db":-28.1},{"series":"Isolation_W1 to W3","freq":5535,"db":-28.6},{"series":"Isolation_W1 to W3","freq":5604,"db":-29.1},{"series":"Isolation_W1 to W3","freq":5674,"db":-29.4},{"series":"Isolation_W1 to W3","freq":5732,"db":-29.7},{"series":"Isolation_W1 to W3","freq":5788,"db":-29.2},{"series":"Isolation_W1 to W3","freq":5847,"db":-28.6},{"series":"Isolation_W1 to W3","freq":5907,"db":-28.1},{"series":"Isolation_W1 to W3","freq":5952,"db":-28.0},{"series":"Isolation_W1 to W3","freq":6000,"db":-27.6}
]},
"layer": [
{"data": {"name": "curves"},
 "mark": {"type": "line", "strokeWidth": 4.8, "strokeJoin": "round", "strokeCap": "round"},
 "encoding": {
  "x": {"field": "freq", "type": "quantitative", "scale": {"domain": [2000, 6000], "nice": false, "zero": false},
   "axis": {"values": [2000,2250,2500,2750,3000,3250,3500,3750,4000,4250,4500,4750,5000,5250,5500,5750,6000],
    "format": "d", "labelExpr": "datum.value % 500 === 0 ? datum.label : ''",
    "labelFont": "Liberation Sans", "labelFontSize": 20, "labelFontWeight": "bold", "labelColor": "#203864",
    "labelPadding": 16, "labelOverlap": false, "labelFlush": false,
    "tickSize": -7, "tickColor": "#000000", "tickOpacity": {"condition": {"test": "datum.value % 500 === 0", "value": 1}, "value": 0},
    "domainColor": "#000000", "domainWidth": 1.5,
    "gridColor": "#C4C4C4", "gridWidth": 1,
    "title": "(MHz)", "titleFont": "Liberation Sans", "titleFontSize": 20, "titleFontWeight": "bold", "titleColor": "#203864",
    "titleAnchor": null, "titleAlign": "center", "titleBaseline": "middle", "titleX": 1208, "titleY": 24}},
  "y": {"field": "db", "type": "quantitative", "scale": {"domain": [-55, 0], "nice": false, "zero": false},
   "axis": {"values": [-55,-50,-45,-40,-35,-30,-25,-20,-15,-10,-5,0],
    "labelExpr": "'' + datum.value",
    "labelFont": "Liberation Sans", "labelFontSize": 20, "labelFontWeight": "bold", "labelColor": "#203864",
    "labelPadding": 22, "labelOverlap": false, "labelFlush": false,
    "tickSize": -7, "tickColor": "#404040",
    "domainColor": "#404040", "domainWidth": 1.5,
    "gridColor": "#D4D4D4", "gridWidth": 1,
    "title": "(dB)", "titleFont": "Liberation Sans", "titleFontSize": 20, "titleFontWeight": "bold", "titleColor": "#203864",
    "titleAnchor": null, "titleAlign": "center", "titleBaseline": "middle", "titleAngle": -90, "titleX": -69, "titleY": 329}},
  "color": {"field": "series", "type": "nominal",
   "scale": {"domain": ["Isolation_W1 to L1","Isolation_W1 to L2","Isolation_W1 to L3","Isolation_W1 to L4","Isolation_W1 to L5","Isolation_W1 to W2","Isolation_W1 to W3"],
    "range": ["#92D050","#00B0F0","#FFC000","#7030A0","#B4C0E2","#375623","#C55A11"]},
   "legend": {"orient": "none", "legendX": 749, "legendY": 5, "title": null, "fillColor": "white", "padding": 6,
    "symbolType": "stroke", "symbolSize": 900, "symbolStrokeWidth": 5, "symbolOffset": 20,
    "labelOffset": 0, "labelFont": "Liberation Sans", "labelFontSize": 25, "labelFontWeight": "bold", "labelColor": "#203864",
    "labelLimit": 500, "rowPadding": 6.8}}
 }},
{"data": {"name": "bands"},
 "mark": {"type": "rule", "color": "#FF0000", "strokeWidth": 4.8, "strokeDash": [22, 17]},
 "encoding": {"x": {"field": "freq", "type": "quantitative"}, "y": {"datum": -1.4}, "y2": {"datum": -53.6}}}
]
}
